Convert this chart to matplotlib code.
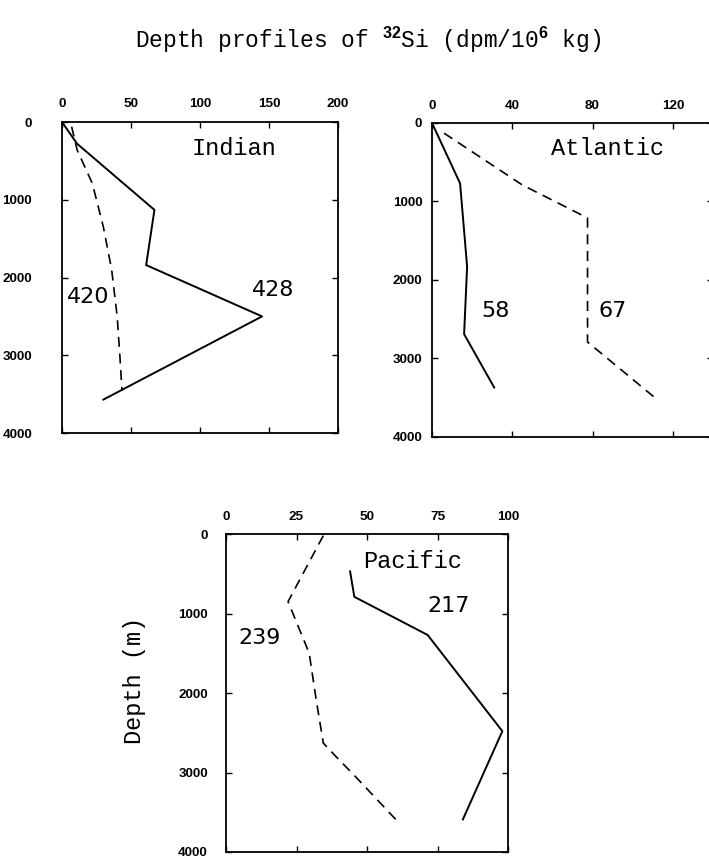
import numpy as np
import matplotlib
matplotlib.use("Agg")
import matplotlib.pyplot as plt

plt.rcParams['mathtext.fontset'] = 'custom'
plt.rcParams['mathtext.bf'] = 'Liberation Sans:bold'
plt.rcParams['mathtext.rm'] = 'Liberation Mono'

# Indian Ocean profiles (x = 32Si, y = depth m)
ind_428_x = [0, 11, 67, 61, 145, 30]
ind_428_y = [0, 280, 1130, 1840, 2500, 3570]
ind_420_x = [7, 11, 22, 30, 36, 40, 42, 43.5]
ind_420_y = [60, 360, 790, 1350, 1900, 2500, 3020, 3460]

# Atlantic
atl_58_x = [0, 14, 17.5, 16, 31]
atl_58_y = [0, 770, 1830, 2690, 3370]
atl_67_x = [6, 45, 77.5, 77.5, 112.5]
atl_67_y = [130, 790, 1210, 2790, 3530]

# Pacific
pac_217_x = [44, 45.5, 71.5, 98, 84]
pac_217_y = [470, 790, 1270, 2480, 3590]
pac_239_x = [34.5, 22, 29.5, 32, 34.5, 39, 46, 61.5]
pac_239_y = [20, 850, 1500, 2090, 2630, 2800, 3055, 3640]

depth_ticks = [0, 1000, 2000, 3000, 4000]
dash = (0, (6, 4))
serif = 'Liberation Mono'


def setup(ax, xmax, xticks, ypad, xpad):
    ax.set_xlim(0, xmax)
    ax.set_ylim(4000, 0)
    ax.set_xticks(xticks)
    ax.set_yticks(depth_ticks)
    ax.xaxis.tick_top()
    ax.tick_params(direction='in', top=True, bottom=True, left=True, right=True,
                   labeltop=True, labelbottom=False, length=4, width=1)
    ax.tick_params(axis='y', pad=ypad)
    ax.tick_params(axis='x', pad=xpad)
    for lab in ax.get_xticklabels() + ax.get_yticklabels():
        lab.set_fontfamily('Liberation Sans')
        lab.set_fontweight('bold')
        lab.set_fontsize(9.7)
    for s in ax.spines.values():
        s.set_linewidth(1.3)


def label(ax, x, y, s, mono=False):
    if mono:
        ax.text(x, y, s, family=serif, fontsize=17, ha='center', va='center')
    else:
        ax.text(x, y, s, family='DejaVu Sans', fontsize=16, ha='center', va='center')


fig = plt.figure(figsize=(7.09, 8.58), dpi=100)

ax1 = fig.add_axes([0.0874, 0.4953, 0.3893, 0.3625])
ax1.plot(ind_428_x, ind_428_y, color='black', lw=1.4)
ax1.plot(ind_420_x, ind_420_y, color='black', lw=1.2, ls=dash)
setup(ax1, 200, [0, 50, 100, 150, 200], 21.5, 9)
label(ax1, 125, 340, 'Indian', True)
label(ax1, 153, 2160, '428')
label(ax1, 19, 2250, '420')

ax2 = fig.add_axes([0.6093, 0.4907, 0.3963, 0.366])
ax2.plot(atl_58_x, atl_58_y, color='black', lw=1.4)
ax2.plot(atl_67_x, atl_67_y, color='black', lw=1.2, ls=dash)
setup(ax2, 140, [0, 40, 80, 120], 7, 8)
label(ax2, 87.5, 320, 'Atlantic', True)
label(ax2, 31.5, 2400, '58')
label(ax2, 90, 2400, '67')

ax3 = fig.add_axes([0.3188, 0.0070, 0.3977, 0.3706])
ax3.plot(pac_217_x, pac_217_y, color='black', lw=1.4)
ax3.plot(pac_239_x, pac_239_y, color='black', lw=1.2, ls=dash)
setup(ax3, 100, [0, 25, 50, 75, 100], 13, 8)
label(ax3, 66, 345, 'Pacific', True)
label(ax3, 79, 910, '217')
label(ax3, 12, 1310, '239')

fig.text(0.19, 0.2075, 'Depth (m)', family=serif, fontsize=17,
         rotation=90, ha='center', va='center')
fig.text(0.19, 0.944, r'Depth profiles of $^{\mathbf{32}}$Si (dpm/10$^{\mathbf{6}}$ kg)',
         family=serif, fontsize=16.5, ha='left', va='baseline')

fig.savefig('out.png', dpi=100)
